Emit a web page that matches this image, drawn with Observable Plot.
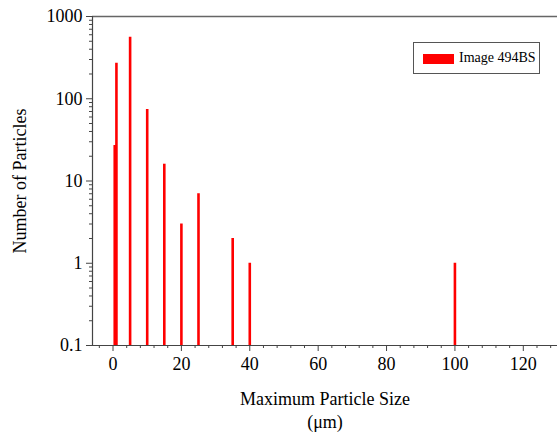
<!DOCTYPE html>
<html>
<head>
<meta charset="utf-8">
<script src="https://cdn.jsdelivr.net/npm/d3@7"></script>
<script src="https://cdn.jsdelivr.net/npm/@observablehq/plot@0.6"></script>
<style>
  html, body { margin: 0; padding: 0; background: #fff; }
  #wrap { position: relative; width: 558px; height: 436px; }
  #legend {
    position: absolute; left: 413px; top: 42px; width: 127px; height: 32px;
    border: 1px solid #555; box-sizing: border-box; background: #fff;
    font-family: "Liberation Serif", "Times New Roman", serif; font-size: 14px; color: #000;
  }
  #legend .sw { position: absolute; left: 9px; top: 11px; width: 31px; height: 10px; background: #ff0000; }
  #legend .lb { position: absolute; left: 45px; top: 7px; white-space: nowrap; }
</style>
</head>
<body>
<div id="wrap"></div>
<script>
const sizes = [0.5, 1, 5, 10, 15, 20, 25, 35, 40, 100];
const counts = [27, 270, 560, 74, 16, 3, 7, 2, 1, 1];
const seriesName = "Image 494BS";
const xMajorTicks = [0, 20, 40, 60, 80, 100, 120];
const xMinorTicks = [-4, 4, 8, 12, 16, 24, 28, 32, 36, 44, 48, 52, 56, 64, 68, 72, 76, 84, 88, 92, 96, 104, 108, 112, 116, 124, 128];
const yMajorTicks = [0.1, 1, 10, 100, 1000];
const xDomain = [-6, 130];
const yDomain = [0.1, 1000];
const xTitle = "Maximum Particle Size\n(μm)";
const yTitle = "Number of Particles";

const data = sizes.map((s, i) => ({size: s, count: counts[i]}));
const yMinorTicks = d3.scaleLog().domain(yDomain).ticks().filter(t => !yMajorTicks.some(m => Math.abs(m - t) < 1e-9));

const font = "Liberation Serif, Times New Roman, serif";
const axisColor = "#444";
const fs = 18;

const chart = Plot.plot({
  width: 558,
  height: 436,
  marginLeft: 92,
  marginRight: 1,
  marginTop: 16,
  marginBottom: 91,
  style: {fontSize: fs + "px", fontFamily: font, color: "#000", background: "#fff"},
  x: {domain: xDomain},
  y: {type: "log", domain: yDomain},
  marks: [
    Plot.ruleX(data, {x: "size", y1: yDomain[0], y2: "count", stroke: "#ff0000", strokeWidth: 2.6}),
    Plot.ruleY([yDomain[0]], {stroke: axisColor, strokeWidth: 1.2}),
    Plot.ruleY([yDomain[1]], {stroke: "#666", strokeWidth: 1.5}),
    Plot.ruleX([xDomain[0]], {stroke: axisColor, strokeWidth: 1.2}),
    Plot.axisX({ticks: xMajorTicks, tickSize: 6, tickPadding: 6, label: null, stroke: axisColor, fontSize: fs, fontFamily: font, fill: "#000"}),
    Plot.axisX({ticks: xMinorTicks, tickSize: 3, text: null, label: null, stroke: axisColor}),
    Plot.axisY({ticks: yMajorTicks, tickSize: 6, tickPadding: 4, tickFormat: d => String(d), label: null, stroke: axisColor, fontSize: fs, fontFamily: font, fill: "#000"}),
    Plot.axisY({ticks: yMinorTicks, tickSize: 3, text: null, label: null, stroke: axisColor}),
    Plot.text([xTitle], {frameAnchor: "bottom", lineAnchor: "top", dy: 43, lineHeight: 1.28, fontSize: fs, fontFamily: font, fill: "#000"}),
    Plot.text([yTitle], {frameAnchor: "left", textAnchor: "middle", lineAnchor: "middle", rotate: -90, dx: -72, fontSize: fs, fontFamily: font, fill: "#000"})
  ]
});
chart.setAttribute("font-family", font);
chart.querySelectorAll("text, g").forEach(el => { el.style.fontFamily = font; });

const wrap = document.getElementById("wrap");
wrap.appendChild(chart);
const legend = document.createElement("div");
legend.id = "legend";
legend.innerHTML = `<div class="sw"></div><div class="lb"></div>`;
legend.querySelector(".lb").textContent = seriesName;
wrap.appendChild(legend);
</script>
</body>
</html>
